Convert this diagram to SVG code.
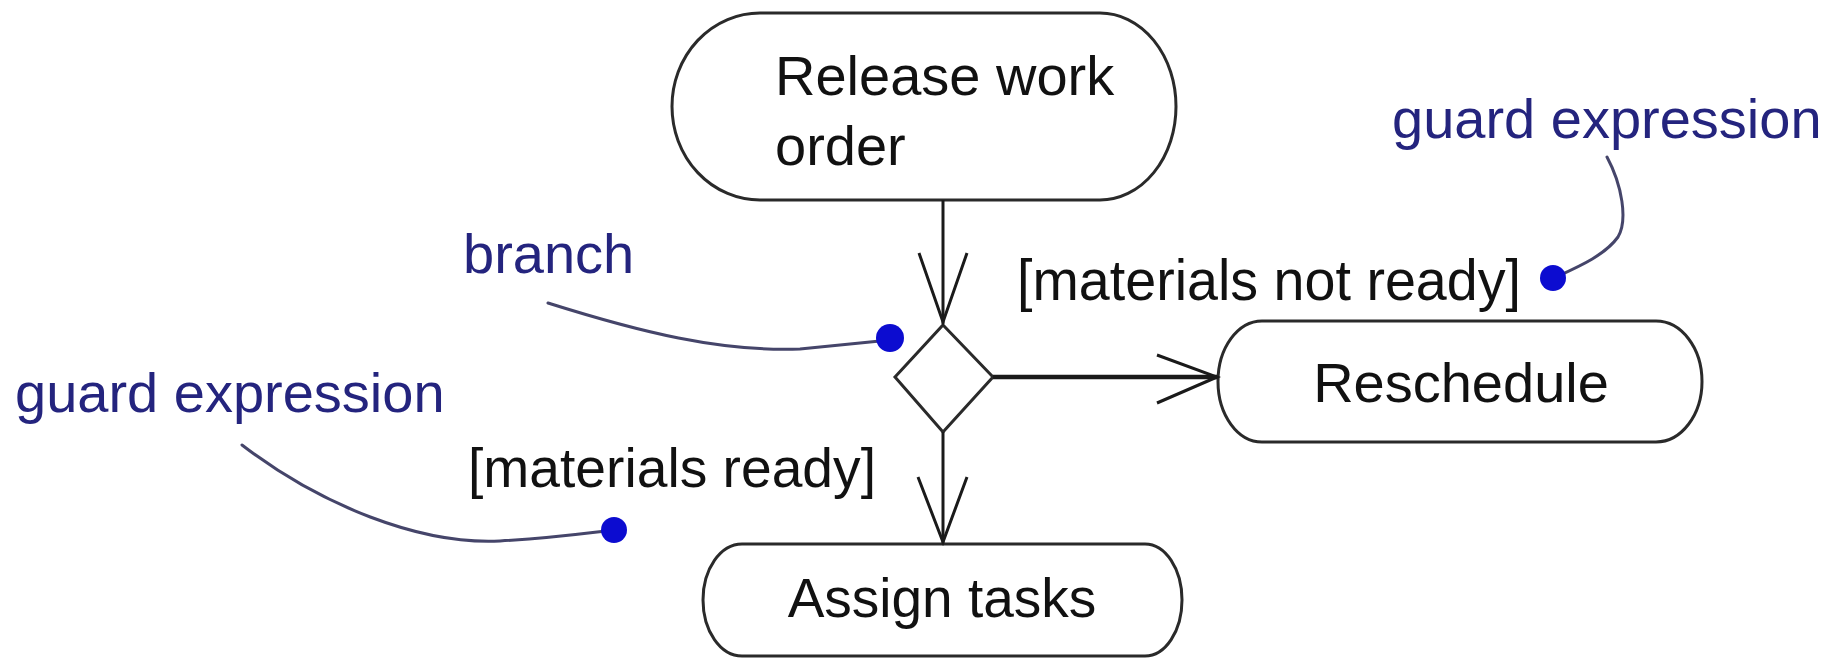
<svg xmlns="http://www.w3.org/2000/svg" width="1837" height="659" viewBox="0 0 1837 659">
<style>
.node{fill:#ffffff;stroke:#2a2a2a;stroke-width:3}
.txt{font-family:"Liberation Sans",Arial,sans-serif;fill:#111111}
.note{font-family:"Liberation Sans",Arial,sans-serif;fill:#24247e;font-size:56px}
.edge{fill:none;stroke:#1a1a1a;stroke-width:3}
.head{fill:none;stroke:#1a1a1a;stroke-width:3;stroke-linejoin:miter}
.leader{fill:none;stroke:#45456a;stroke-width:3;stroke-linecap:round}
.dot{fill:#0c0cd0}
</style>
<rect width="1837" height="659" fill="#ffffff"/>
<g id="release">
<path class="node" d="M760,13 H1100 A76,93.5 0 0 1 1100,200 H760 A88,93.5 0 0 1 760,13 Z"/>
<text class="txt" x="775" y="95" font-size="56">Release work</text>
<text class="txt" x="775" y="165" font-size="56">order</text>
</g>
<g id="branch">
<polygon class="node" points="943,325 993,377 943,432 895,377"/>
</g>
<g id="reschedule">
<path class="node" d="M1262,321 H1656 A46,60.5 0 0 1 1656,442 H1262 A44,60.5 0 0 1 1262,321 Z"/>
<text class="txt" x="1461" y="402" font-size="56" text-anchor="middle">Reschedule</text>
</g>
<g id="assign">
<path class="node" d="M742,544 H1145 A37,56 0 0 1 1145,656 H742 A39,56 0 0 1 742,544 Z"/>
<text class="txt" x="942" y="617" font-size="55" text-anchor="middle">Assign tasks</text>
</g>
<g id="connectors">
<line class="edge" x1="943" y1="200" x2="943" y2="324"/>
<polyline class="head" points="919,253 943,322 967,253"/>
<line class="edge" x1="943" y1="432" x2="943" y2="543"/>
<polyline class="head" points="918,477 943,542 967,477"/>
<line class="edge" x1="993" y1="377" x2="1217" y2="377" style="stroke-width:4.5"/>
<polyline class="head" points="1157,355 1217,377 1157,403"/>
</g>
<g id="guard-labels">
<text class="txt" x="1017" y="300" font-size="57" textLength="504" lengthAdjust="spacingAndGlyphs">[materials not ready]</text>
<text class="txt" x="468" y="487" font-size="56" textLength="408" lengthAdjust="spacingAndGlyphs">[materials ready]</text>
</g>
<g id="note-branch">
<text class="note" x="463" y="273">branch</text>
<path class="leader" d="M548,303 C640,332 720,352 800,349 L880,341"/>
<circle class="dot" cx="890" cy="338" r="14"/>
</g>
<g id="note-guard-left">
<text class="note" x="15" y="412">guard expression</text>
<path class="leader" d="M242,445 C320,505 420,545 500,541 C550,538 580,534 605,531"/>
<circle class="dot" cx="614" cy="530" r="13"/>
</g>
<g id="note-guard-right">
<text class="note" x="1392" y="138">guard expression</text>
<path class="leader" d="M1607,157 C1622,185 1628,220 1618,237 C1605,255 1580,266 1556,277"/>
<circle class="dot" cx="1553" cy="278" r="13"/>
</g>
</svg>
